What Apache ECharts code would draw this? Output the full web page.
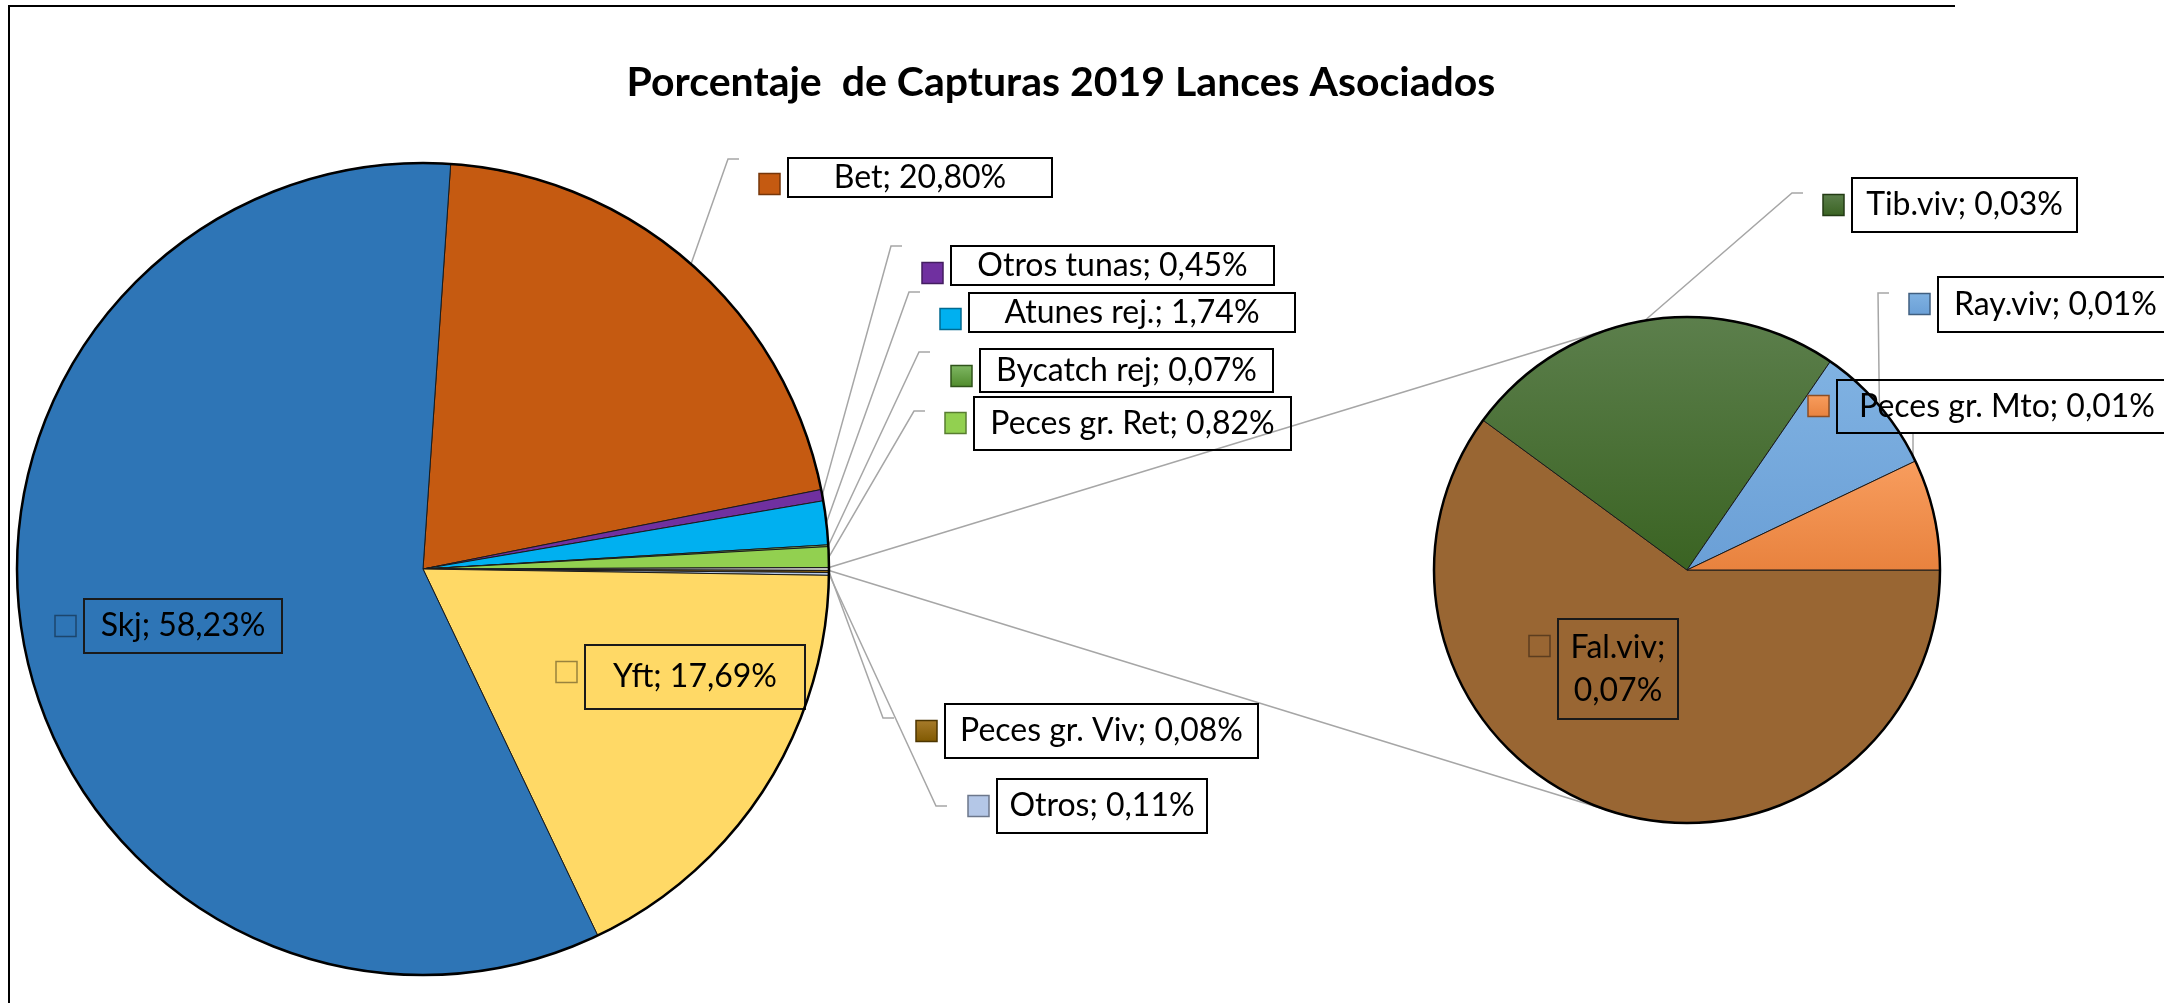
<!DOCTYPE html>
<html>
<head>
<meta charset="utf-8">
<script src="https://cdn.jsdelivr.net/npm/echarts@6/dist/echarts.min.js"></script>
<style>
  html, body { margin: 0; padding: 0; background: #fff; }
  #chart { width: 2164px; height: 1003px; }
</style>
</head>
<body>
<div id="chart"></div>
<script>
var TITLE = "Porcentaje  de Capturas 2019 Lances Asociados";

// primer pastel; el trozo agrupado (segundo pastel) va en la posicion splitAt
var mainNames = ["Bet", "Otros tunas", "Atunes rej.", "Bycatch rej", "Peces gr. Ret", "Peces gr. Viv", "Otros", "Yft", "Skj"];
var mainValues = [20.80, 0.45, 1.74, 0.07, 0.82, 0.08, 0.11, 17.69, 58.23];
var splitAt = 5;

// segundo pastel (detalle del trozo agrupado)
var subNames = ["Fal.viv", "Tib.viv", "Ray.viv", "Peces gr. Mto"];
var subValues = [0.0721, 0.0294, 0.0100, 0.0085];

function grad(a, b) {
  return { type: "linear", x: 0, y: 0, x2: 0, y2: 1,
    colorStops: [{ offset: 0, color: a }, { offset: 1, color: b }] };
}
var mainColors = ["#C55A11", "#7030A0", "#00B0F0", grad("#80B864", "#4F8A2B"), "#92D050",
  grad("#A87C2C", "#7F5800"), "#B4C7E7", "#FFD966", "#2E75B6"];
var groupColor = "#BFBFBF";
var subColors = ["#996633", grad("#5C7F4C", "#3A6322"), grad("#80B2E2", "#6A9FD6"), grad("#F89D5E", "#E8823E")];

// cajas de etiqueta: [left, top, width, height, centro de la clave, lineas]
var mainBoxes = [
  [788, 158, 264, 39, 184, 1],
  [951, 246, 323, 39, 273, 1],
  [969, 293, 326, 39, 319, 1],
  [980, 349, 293, 43, 376, 1],
  [974, 397, 317, 53, 423, 1],
  [945, 704, 313, 54, 731, 1],
  [997, 779, 210, 54, 806, 1],
  [585, 645, 220, 64, 672, 1],
  [84, 599, 198, 54, 626, 1]
];
var mainLeaders = [[739, 159], [902, 246], [920, 292], [930, 352], [925, 411], [894, 718], [947, 806], null, null];
var mainInside = [false, false, false, false, false, false, false, true, true];

var subBoxes = [
  [1558, 619, 120, 100, 646, 2],
  [1852, 178, 225, 54, 205, 1],
  [1938, 277, 235, 55, 304, 1],
  [1837, 380, 340, 53, 406, 1]
];
var subLeaders = [null, [1803, 193], [1889, 293], [1913, 433, "v"]];
var subInside = [true, false, false, false];

var MAIN_C = [423, 569], MAIN_R = 406;
var SUB_C = [1687, 570], SUB_R = 253;
var FONT = "Lato";
var LH = 38, LH_WRAP = 43;

function sum(a) { return a.reduce(function (s, v) { return s + v; }, 0); }
function fmt(v) { return v.toFixed(2).replace(".", ",") + "%"; }
function base(c) { return typeof c === "string" ? c : c.colorStops[1].color; }
function darken(hex, f) {
  var n = parseInt(hex.slice(1), 16);
  var r = Math.round(((n >> 16) & 255) * (1 - f));
  var g = Math.round(((n >> 8) & 255) * (1 - f));
  var b = Math.round((n & 255) * (1 - f));
  return "rgb(" + r + "," + g + "," + b + ")";
}

var groupValue = sum(subValues);
var total = sum(mainValues) + groupValue;
var mainStart = 360 * (sum(mainValues.slice(0, splitAt)) + groupValue / 2) / total;

function makeItem(name, value, color, box, lead, inside) {
  var lines = box[5];
  var lh = lines > 1 ? LH_WRAP : LH;
  var text = name + ";" + (lines > 1 ? "\n" : " ") + fmt(value);
  return {
    name: name,
    value: value,
    itemStyle: { color: color },
    label: {
      formatter: text,
      width: box[2],
      lineHeight: lh,
      padding: [Math.max(0, (box[3] - lines * lh) / 2), 0],
      borderColor: inside ? "#1a1a1a" : "#000"
    },
    labelLine: { show: !!lead }
  };
}

var mainData = [], mainLayout = [];
var keys = [];
mainNames.forEach(function (n, i) {
  if (i === splitAt) {
    mainData.push({ name: "grupo", value: groupValue, itemStyle: { color: groupColor },
      label: { show: false }, labelLine: { show: false } });
    mainLayout.push(null);
  }
  mainData.push(makeItem(n, mainValues[i], mainColors[i], mainBoxes[i], mainLeaders[i], mainInside[i]));
  mainLayout.push({ box: mainBoxes[i], lead: mainLeaders[i] });
  keys.push({ box: mainBoxes[i], color: mainColors[i] });
});

var subData = [], subLayout = [];
subNames.forEach(function (n, i) {
  subData.push(makeItem(n, subValues[i], subColors[i], subBoxes[i], subLeaders[i], subInside[i]));
  subLayout.push({ box: subBoxes[i], lead: subLeaders[i] });
  keys.push({ box: subBoxes[i], color: subColors[i] });
});

function makeLayout(layouts) {
  return function (p) {
    var L = layouts[p.dataIndex];
    if (!L) return {};
    var b = L.box;
    var out = { x: b[0] + b[2] / 2, y: b[1], align: "center", verticalAlign: "top" };
    if (L.lead && p.labelLinePoints) {
      var s = p.labelLinePoints[0], e = L.lead;
      var bend = e[2] === "v" ? [e[0], e[1] + 30] : [e[0] - 11, e[1]];
      out.labelLinePoints = [s, bend, [e[0], e[1]]];
    }
    return out;
  };
}

// lineas de union: bordes del trozo agrupado -> tangentes al segundo pastel
var half = Math.PI * groupValue / total;
var pTop = [MAIN_C[0] + MAIN_R * Math.cos(-half), MAIN_C[1] + MAIN_R * Math.sin(-half)];
var pBot = [MAIN_C[0] + MAIN_R * Math.cos(half), MAIN_C[1] + MAIN_R * Math.sin(half)];
function tangent(p, sign) {
  var dx = p[0] - SUB_C[0], dy = p[1] - SUB_C[1];
  var d = Math.sqrt(dx * dx + dy * dy);
  var a = Math.atan2(dy, dx) + sign * Math.acos(SUB_R / d);
  return [SUB_C[0] + SUB_R * Math.cos(a), SUB_C[1] + SUB_R * Math.sin(a)];
}
var tTop = tangent(pTop, 1), tBot = tangent(pBot, -1);

var graphics = [
  { type: "polyline", z: 0, shape: { points: [[1955, 6], [9, 6], [9, 1010]] },
    style: { stroke: "#000", lineWidth: 2, fill: null } },
  { type: "line", z: 1, shape: { x1: pTop[0], y1: pTop[1], x2: tTop[0], y2: tTop[1] },
    style: { stroke: "#A6A6A6", lineWidth: 1.5 } },
  { type: "line", z: 1, shape: { x1: pBot[0], y1: pBot[1], x2: tBot[0], y2: tBot[1] },
    style: { stroke: "#A6A6A6", lineWidth: 1.5 } },
  { type: "circle", z: 50, shape: { cx: MAIN_C[0], cy: MAIN_C[1], r: MAIN_R },
    style: { stroke: "#000", lineWidth: 2.5, fill: null } },
  { type: "circle", z: 50, shape: { cx: SUB_C[0], cy: SUB_C[1], r: SUB_R },
    style: { stroke: "#000", lineWidth: 2.5, fill: null } }
];
keys.forEach(function (k) {
  graphics.push({
    type: "rect", z: 60,
    shape: { x: k.box[0] - 29, y: k.box[4] - 10.5, width: 21, height: 21 },
    style: { fill: k.color, stroke: darken(base(k.color), 0.4), lineWidth: 1.5 }
  });
});

var labelBase = {
  show: true,
  position: "outside",
  color: "#000",
  fontFamily: FONT,
  fontSize: 32,
  lineHeight: LH,
  borderWidth: 2,
  borderColor: "#000"
};

var chart = echarts.init(document.getElementById("chart"));
chart.setOption({
  backgroundColor: "#fff",
  animation: false,
  title: {
    text: TITLE,
    left: 1061,
    top: 62,
    padding: 0,
    textAlign: "center",
    textStyle: { fontFamily: FONT, fontWeight: "bold", fontSize: 41, lineHeight: 41, color: "#000" }
  },
  graphic: graphics,
  series: [
    {
      type: "pie",
      center: MAIN_C,
      radius: MAIN_R,
      startAngle: mainStart,
      clockwise: true,
      avoidLabelOverlap: false,
      silent: true,
      label: labelBase,
      labelLine: { show: true, length: 10, length2: 10, lineStyle: { color: "#A6A6A6", width: 1.5 } },
      itemStyle: { borderColor: "#1a1a1a", borderWidth: 1 },
      labelLayout: makeLayout(mainLayout),
      data: mainData
    },
    {
      type: "pie",
      center: SUB_C,
      radius: SUB_R,
      startAngle: 0,
      clockwise: true,
      avoidLabelOverlap: false,
      silent: true,
      label: labelBase,
      labelLine: { show: true, length: 10, length2: 10, lineStyle: { color: "#A6A6A6", width: 1.5 } },
      itemStyle: { borderColor: "#1a1a1a", borderWidth: 1 },
      labelLayout: makeLayout(subLayout),
      data: subData
    }
  ]
});
</script>
</body>
</html>
